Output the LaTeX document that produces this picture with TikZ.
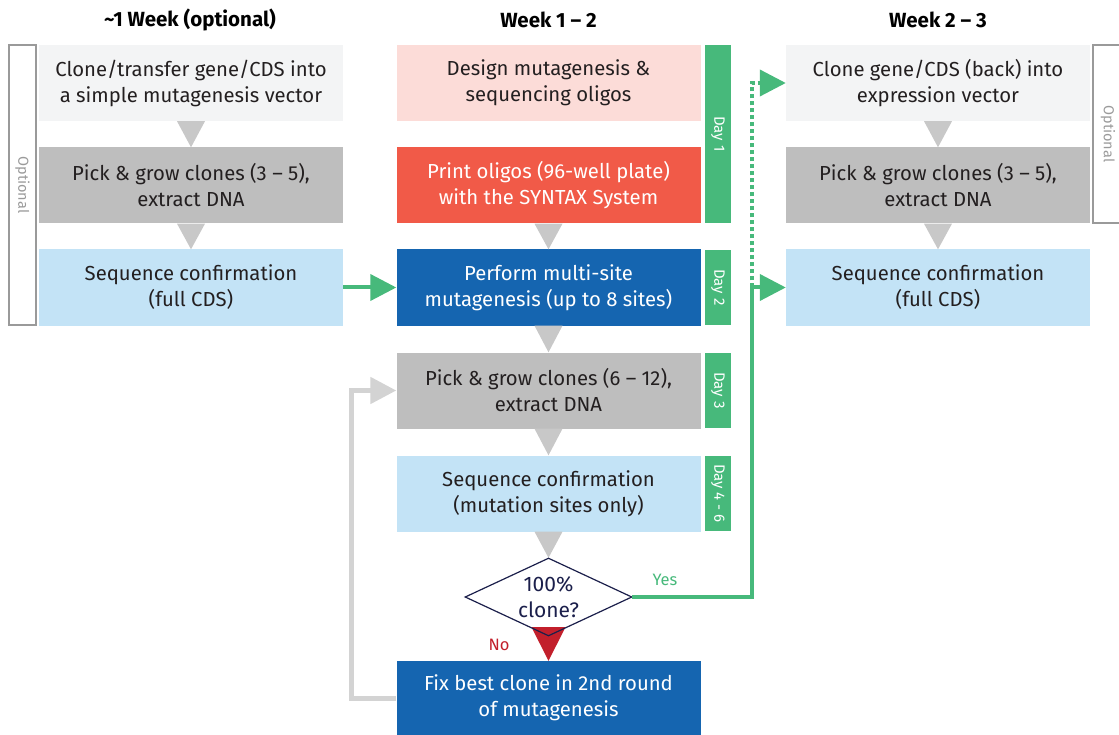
\documentclass[tikz,border=0pt]{standalone}
\usepackage{fontspec}
\setmainfont{Fira Sans}
\usetikzlibrary{shapes.geometric,arrows.meta}

\definecolor{boxlight}{HTML}{F3F4F5}
\definecolor{boxgray}{HTML}{BEBEBE}
\definecolor{boxsky}{HTML}{C3E3F6}
\definecolor{boxpink}{HTML}{FCDCD8}
\definecolor{boxred}{HTML}{F15A48}
\definecolor{boxblue}{HTML}{1565B0}
\definecolor{daygreen}{HTML}{47B97B}
\definecolor{tipgray}{HTML}{C8C8C8}
\definecolor{loopgray}{HTML}{D3D3D3}
\definecolor{navy}{HTML}{1B1F4B}
\definecolor{nored}{HTML}{C21F2B}
\definecolor{optgray}{HTML}{9A9A9A}
\definecolor{inktext}{HTML}{231F20}

\begin{document}
\begin{tikzpicture}[
    x=1pt, y=-1pt,
    stepbox/.style={rectangle, minimum width=304pt, minimum height=76pt, inner sep=2pt,
                    align=center, text=inktext, font=\fontsize{20.3}{26}\selectfont},
    decision/.style={diamond, aspect=2.14, minimum width=167pt, minimum height=78pt, inner sep=0pt},
    daybar/.style={rectangle, fill=daygreen, rotate=-90, minimum height=26pt, inner sep=0pt,
                   text=white, font=\fontsize{15}{17}\selectfont},
    head/.style={font=\bfseries\fontsize{20.5}{24}\selectfont},
    opttext/.style={rotate=-90, text=optgray, font=\fontsize{14.5}{17}\selectfont},
    optframe/.style={draw=optgray, line width=1.5pt},
    tipfill/.style={fill=tipgray},
    yesline/.style={draw=daygreen, line width=4pt},
    loopline/.style={draw=loopgray, line width=5pt}
]
\useasboundingbox (0,0) rectangle (1119,735);

% Column headers
\node[head] (headleft) at (190, 20) {\textasciitilde1 Week (optional)};
\node[head] (headmid) at (548.5, 20) {Week 1 – 2};
\node[head] (headright) at (938, 20) {Week 2 – 3};

% Optional cloning (Left)
\node[stepbox, fill=boxlight] (clone1) at (191, 83) {Clone/transfer gene/CDS into\\a simple mutagenesis vector};
\node[stepbox, fill=boxgray] (pick1) at (191, 185.5) {Pick \& grow clones (3 – 5),\\extract DNA};
\node[stepbox, fill=boxsky] (seq1) at (191, 287.5) {Sequence confirmation\\(full CDS)};

\draw[optframe] (9, 45) rectangle (36, 325);
\node[opttext] (optleft) at (22.5, 185) {Optional};

% Mutagenesis (Center)
\node[stepbox, fill=boxpink] (design) at (548.5, 83) {Design mutagenesis \&\\sequencing oligos};
\node[stepbox, fill=boxred, text=white] (print) at (548.5, 185.5) {Print oligos (96-well plate)\\with the SYNTAX System};
\node[stepbox, fill=boxblue, text=white] (mut) at (548.5, 287.5) {Perform multi-site\\mutagenesis (up to 8 sites)};
\node[stepbox, fill=boxgray] (pick2) at (548.5, 390.5) {Pick \& grow clones (6 – 12),\\extract DNA};
\node[stepbox, fill=boxsky] (seq2) at (548.5, 493.5) {Sequence confirmation\\(mutation sites only)};
\node[decision, align=center, text=navy, font=\fontsize{21}{26}\selectfont] (check) at (548.5, 597) {100\%\\clone?};
\node[stepbox, fill=boxblue, text=white, minimum height=74pt] (fix) at (548.5, 698) {Fix best clone in 2nd round\\of mutagenesis};

% Days
\node[daybar, minimum width=178pt] (day1) at (718, 134) {Day 1};
\node[daybar, minimum width=75pt] (day2) at (718, 287.5) {Day 2};
\node[daybar, minimum width=75pt] (day3) at (718, 390.5) {Day 3};
\node[daybar, minimum width=75pt] (day4) at (718, 493.5) {Day 4 - 6};

% Expression cloning (Right)
\node[stepbox, fill=boxlight] (clone3) at (938, 83) {Clone gene/CDS (back) into\\expression vector};
\node[stepbox, fill=boxgray] (pick3) at (938, 185.5) {Pick \& grow clones (3 – 5),\\extract DNA};
\node[stepbox, fill=boxsky] (seq3) at (938, 287.5) {Sequence confirmation\\(full CDS)};

\draw[optframe] (1119, 45) -- (1093, 45) -- (1093, 223) -- (1119, 223);
\node[opttext] (optright) at (1108, 134) {Optional};

% Gray step triangles
\foreach \a/\b in {clone1/pick1, pick1/seq1, print/mut, mut/pick2, pick2/seq2, seq2/check, clone3/pick3, pick3/seq3} {
    \fill[tipfill] (\a.south) ++(-14, 0) -- ++(28, 0) -- (\b.north) -- cycle;
}

% No branch
\fill[nored] (check.south) ++(-17, -9) -- ++(34, 0) -- (fix.north) -- cycle;
\node[decision, draw=navy, line width=1.2pt] (checkrim) at (check) {};
\node[text=nored, font=\fontsize{16.5}{18}\selectfont] (nolabel) at (499, 645) {No};

% Arrows
\draw[yesline, -{Triangle[length=26pt, width=26pt]}] (seq1.east) -- (mut.west);

\coordinate (turn) at (752, 287.5);
\draw[yesline, -{Triangle[length=26pt, width=26pt]}] (check.east) -| (turn) -- (seq3.west);
\draw[yesline, dash pattern=on 4pt off 3pt, -{Triangle[length=26pt, width=26pt]}] (turn) |- (clone3.west);
\node[text=daygreen, font=\fontsize{16.5}{18}\selectfont] (yeslabel) at (665, 580) {Yes};

\draw[loopline, -{Triangle[length=26pt, width=26pt]}] (fix.west) -- ++(-45, 0) |- (pick2.west);

\end{tikzpicture}
\end{document}
